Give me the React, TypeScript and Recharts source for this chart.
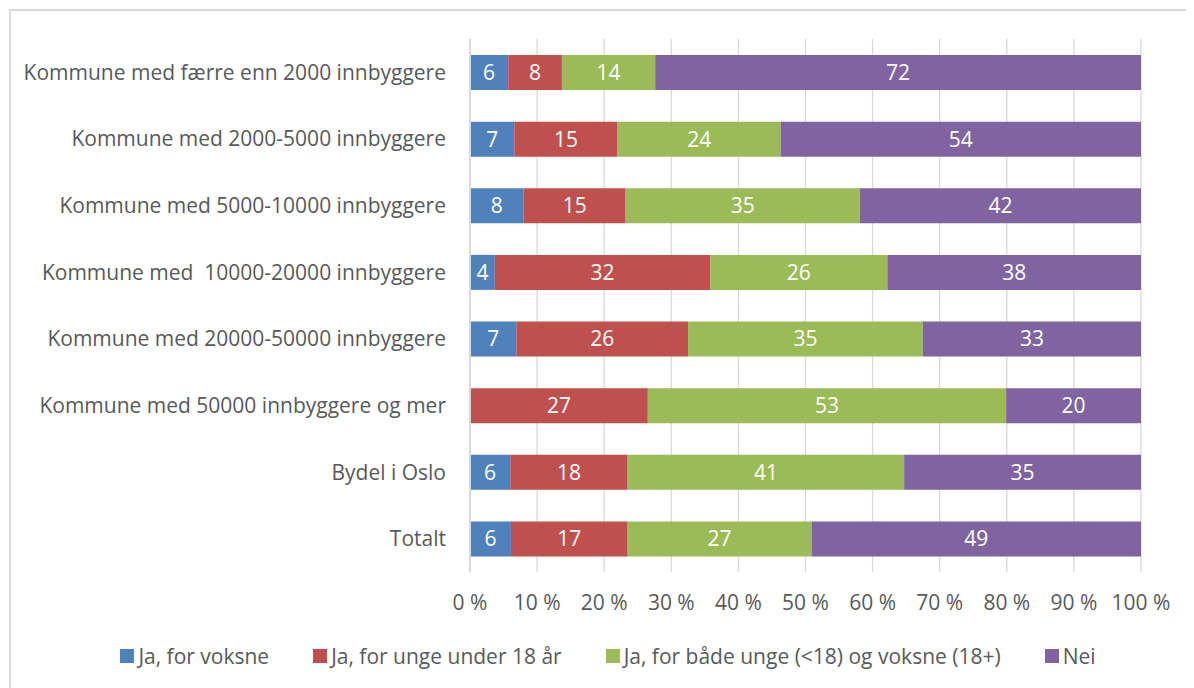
import { Bar, BarChart, CartesianGrid, LabelList, XAxis, YAxis } from "recharts";

const categories = [
  "Kommune med færre enn 2000 innbyggere",
  "Kommune med 2000-5000 innbyggere",
  "Kommune med 5000-10000 innbyggere",
  "Kommune med \u00a010000-20000 innbyggere",
  "Kommune med 20000-50000 innbyggere",
  "Kommune med 50000 innbyggere og mer",
  "Bydel i Oslo",
  "Totalt",
];

const voksne = [5.7, 6.6, 8.0, 3.7, 6.9, 0, 6.0, 6.1];
const unge = [8.0, 15.4, 15.2, 32.1, 25.6, 26.5, 17.5, 17.4];
const begge = [13.9, 24.3, 34.9, 26.4, 35.0, 53.4, 41.2, 27.4];
const nei = [72.4, 53.7, 41.9, 37.8, 32.5, 20.1, 35.3, 49.1];

const xTicks = [0, 10, 20, 30, 40, 50, 60, 70, 80, 90, 100];

const series = [
  { key: "voksne", name: "Ja, for voksne", color: "#4f81bd" },
  { key: "unge", name: "Ja, for unge under 18 år", color: "#c0504d" },
  { key: "begge", name: "Ja, for både unge (<18) og voksne (18+)", color: "#9bbb59" },
  { key: "nei", name: "Nei", color: "#8064a2" },
];

const data = categories.map((name, i) => ({
  name,
  voksne: voksne[i],
  unge: unge[i],
  begge: begge[i],
  nei: nei[i],
}));

const FONT = "'Open Sans', sans-serif";
const TEXT = "#595959";

function ChartLegend() {
  return (
    <div
      style={{
        position: "absolute",
        left: 0,
        top: 633,
        width: 1200,
        display: "flex",
        justifyContent: "center",
        gap: 44,
        fontFamily: FONT,
        fontSize: 21,
        lineHeight: "30px",
        color: TEXT,
      }}
    >
      {series.map((s) => (
        <div key={s.key} style={{ display: "flex", alignItems: "center" }}>
          <span style={{ width: 14, height: 14, background: s.color, marginRight: 4, display: "inline-block" }} />
          <span>{s.name}</span>
        </div>
      ))}
    </div>
  );
}

export default function App() {
  return (
    <div style={{ position: "relative", width: 1186, height: 680, fontFamily: FONT }}>
      <div
        style={{
          position: "absolute",
          left: 1,
          top: 1,
          width: 1300,
          height: 800,
          borderTop: "2px solid #d9d9d9",
          borderLeft: "2px solid #d9d9d9",
          boxSizing: "border-box",
        }}
      />
      <BarChart
        width={1186}
        height={680}
        data={data}
        layout="vertical"
        barSize={35}
        margin={{ top: 31, right: 53, bottom: 86, left: 0 }}
        style={{ position: "absolute", left: 0, top: 0 }}
      >
        <CartesianGrid horizontal={false} stroke="#d9d9d9" strokeWidth={1.3} />
        <XAxis
          type="number"
          domain={[0, 100]}
          ticks={xTicks}
          axisLine={false}
          tickLine={false}
          height={30}
          tickMargin={17}
          tick={{ fill: TEXT, fontSize: 21, fontFamily: FONT }}
          tickFormatter={(v) => `${v} %`}
        />
        <YAxis
          type="category"
          dataKey="name"
          width={462}
          axisLine={{ stroke: "#d9d9d9", strokeWidth: 2 }}
          tickLine={false}
          tickSize={0}
          tickMargin={24}
          interval={0}
          tick={{ fill: TEXT, fontSize: 21, fontFamily: FONT }}
        />
        {series.map((s) => (
          <Bar key={s.key} dataKey={s.key} name={s.name} stackId="a" fill={s.color} isAnimationActive={false}>
            <LabelList
              dataKey={s.key}
              position="center"
              fill="#ffffff"
              fontSize={21}
              fontFamily={FONT}
              formatter={(v: any) => Math.round(Number(v))}
            />
          </Bar>
        ))}
      </BarChart>
      <ChartLegend />
    </div>
  );
}
